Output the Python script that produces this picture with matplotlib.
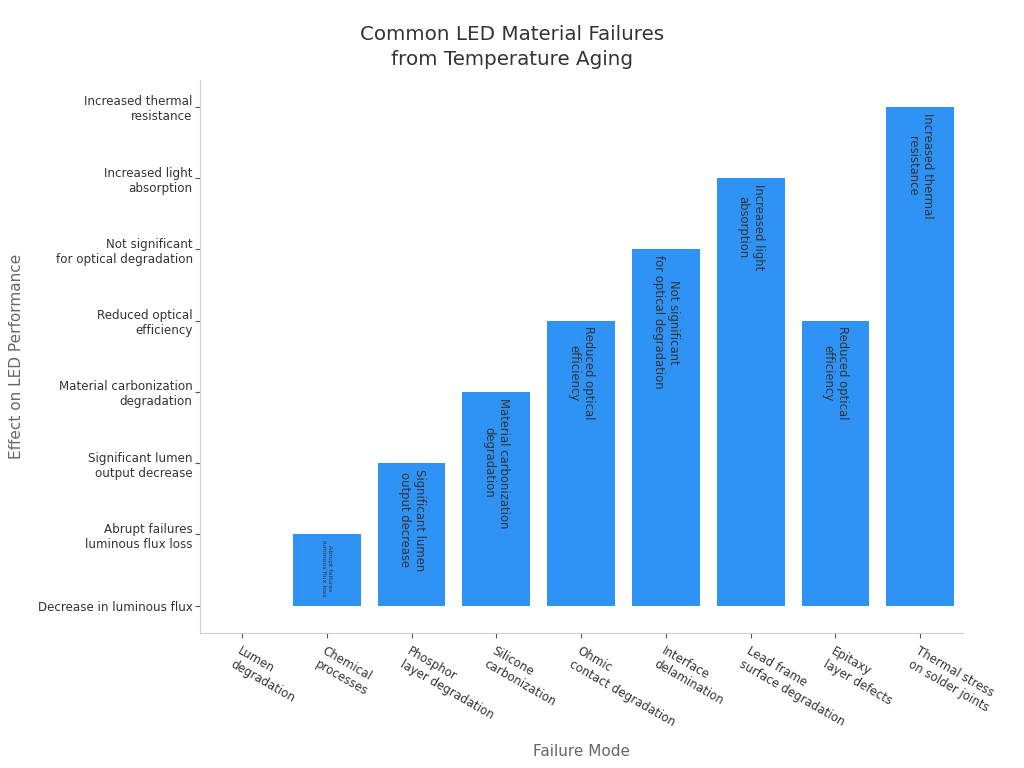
import matplotlib
matplotlib.use("Agg")
import matplotlib.pyplot as plt

failure_modes = [
    "Lumen\ndegradation",
    "Chemical\nprocesses",
    "Phosphor\nlayer degradation",
    "Silicone\ncarbonization",
    "Ohmic\ncontact degradation",
    "Interface\ndelamination",
    "Lead frame\nsurface degradation",
    "Epitaxy\nlayer defects",
    "Thermal stress\non solder joints",
]
effect_levels = [
    "Decrease in luminous flux",
    "Abrupt failures\nluminous flux loss",
    "Significant lumen\noutput decrease",
    "Material carbonization\ndegradation",
    "Reduced optical\nefficiency",
    "Not significant\nfor optical degradation",
    "Increased light\nabsorption",
    "Increased thermal\nresistance",
]
effect_index = [0, 1, 2, 3, 4, 5, 6, 4, 7]

fig = plt.figure(figsize=(10.24, 7.68), dpi=100)
ax = fig.add_axes([0.195, 0.176, 0.745, 0.72])

x = list(range(len(failure_modes)))
ax.bar(x, effect_index, width=0.8, color="#2f93f6", linewidth=0, zorder=2)

for xi, yi in zip(x, effect_index):
    if yi <= 0:
        continue
    fs = 4.5 if yi == 1 else 8.4
    ax.annotate(effect_levels[yi], xy=(xi, yi), xytext=(0, -4), textcoords="offset points",
                rotation=-90, ha="center", va="top", multialignment="center",
                fontsize=fs, color="#333333")

ax.set_xlim(-0.5, 8.5)
ax.set_ylim(-0.38, 7.38)
ax.set_xticks(x)
ax.set_xticklabels(failure_modes, rotation=-30, ha="left", rotation_mode="anchor",
                   fontsize=8.5, color="#333333")
ax.set_yticks(range(len(effect_levels)))
ax.set_yticklabels(effect_levels, fontsize=8.6, color="#333333", multialignment="right")
ax.tick_params(axis="both", length=3.5, color="#555555", width=0.8)
ax.tick_params(axis="x", pad=5)
ax.tick_params(axis="y", pad=1.5)

for s in ["top", "right"]:
    ax.spines[s].set_visible(False)
for s in ["left", "bottom"]:
    ax.spines[s].set_color("#d0d0d0")

ax.set_xlabel("Failure Mode", fontsize=11, color="#666666", labelpad=11)
ax.set_ylabel("Effect on LED Performance", fontsize=11, color="#666666", labelpad=10)
fig.suptitle("Common LED Material Failures\nfrom Temperature Aging", fontsize=14.3, color="#333333",
             y=0.968, linespacing=1.4)

fig.savefig("out.png", dpi=100)
